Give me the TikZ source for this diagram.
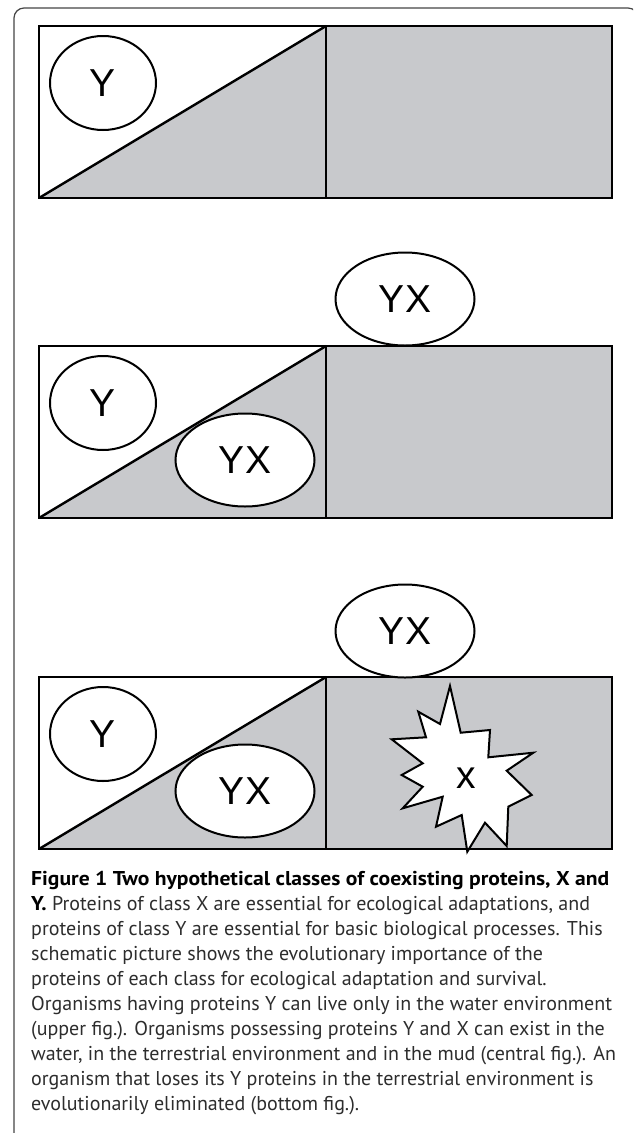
\documentclass[tikz,border=0pt]{standalone}
\usepackage{fontspec}
\setmainfont{Liberation Sans}
\newfontfamily\capfont{PT Sans}[BoldFeatures={FakeStretch=1.08}]
\usetikzlibrary{shapes.geometric}
\definecolor{panelgray}{RGB}{200,201,204}
\definecolor{framegray}{RGB}{70,70,70}
\definecolor{captext}{RGB}{45,45,45}
\newcommand\drawpanelat[1]{%
  \fill[panelgray] (326,#1) rectangle (612,{#1+172});
  \fill[panelgray] (39,{#1+172}) -- (326,#1) -- (326,{#1+172}) -- cycle;
  \draw[panelline] (39,#1) rectangle (612,{#1+172});
  \draw[divline] (326,#1) -- (326,{#1+172});
  \draw[divline] (39,{#1+172}) -- (326,#1);
}
\begin{document}
\begin{tikzpicture}[x=1pt,y=-1pt,
  panelline/.style={line width=2.8pt, line join=miter},
  divline/.style={line width=2.4pt},
  ellip/.style={ellipse, draw, line width=2pt, fill=white, inner sep=0pt,
                font=\fontsize{39}{39}\selectfont},
  yell/.style={ellip, minimum width=106pt, minimum height=94pt},
  yxell/.style={ellip, minimum width=139pt, minimum height=93pt},
  capline/.style={anchor=base west, inner sep=0pt,
                  font=\capfont\fontsize{20}{24}\selectfont, text=captext}]
\useasboundingbox (0,0) rectangle (633,1133);
\clip (0,0) rectangle (633,1133);
\fill[white] (0,0) rectangle (633,1133);
\draw[framegray, line width=1.2pt, rounded corners=10pt]
  (14,1145) -- (14,8) -- (638,8) -- (638,1145);

% upper figure
\drawpanelat{26}
\node[yell] (y1) at (103,83) {Y};

% central figure
\drawpanelat{346}
\node[yell] (y2) at (103,403) {Y};
\node[yxell] (yxin2) at (245,460) {YX};
\node[yxell] (yxout2) at (405,299) {YX};

% bottom figure
\drawpanelat{677}
\node[yell] (y3) at (103,734) {Y};
\node[yxell] (yxin3) at (245,791) {YX};
\node[yxell] (yxout3) at (405,631) {YX};
\filldraw[fill=white, draw=black, line width=2pt, line join=miter]
  (450,686) -- (460.7,732.7) -- (490,730) -- (488.3,757.3) -- (533.3,752.7)
  -- (506.7,770.7) -- (531.7,795) -- (508.3,806.7) -- (506.7,846)
  -- (485,822.7) -- (467.3,851.7) -- (461.7,815) -- (436,826.7)
  -- (442.7,796.7) -- (402.7,808.3) -- (422.7,786.7) -- (401.7,775)
  -- (422.7,763.3) -- (391.7,739.3) -- (426,737.3) -- (418.3,711.7)
  -- (440,724) -- cycle;
\node[inner sep=0pt, font=\fontsize{39}{39}\selectfont] (xlab) at (466.7,778) {x};

% caption
\node[capline, text=black] (c1) at (31,885)
  {\bfseries Figure 1 Two hypothetical classes of coexisting proteins, X and};
\node[capline] (c2) at (31,910)
  {{\bfseries\color{black}Y.} Proteins of class X are essential for ecological adaptations, and};
\node[capline] (c3) at (31,935)
  {proteins of class Y are essential for basic biological processes. This};
\node[capline] (c4) at (31,960)
  {schematic picture shows the evolutionary importance of the};
\node[capline] (c5) at (31,985)
  {proteins of each class for ecological adaptation and survival.};
\node[capline] (c6) at (31,1010)
  {Organisms having proteins Y can live only in the water environment};
\node[capline] (c7) at (31,1035)
  {(upper fig.). Organisms possessing proteins Y and X can exist in the};
\node[capline] (c8) at (31,1060)
  {water, in the terrestrial environment and in the mud (central fig.). An};
\node[capline] (c9) at (31,1085)
  {organism that loses its Y proteins in the terrestrial environment is};
\node[capline] (c10) at (31,1110)
  {evolutionarily eliminated (bottom fig.).};
\end{tikzpicture}
\end{document}
